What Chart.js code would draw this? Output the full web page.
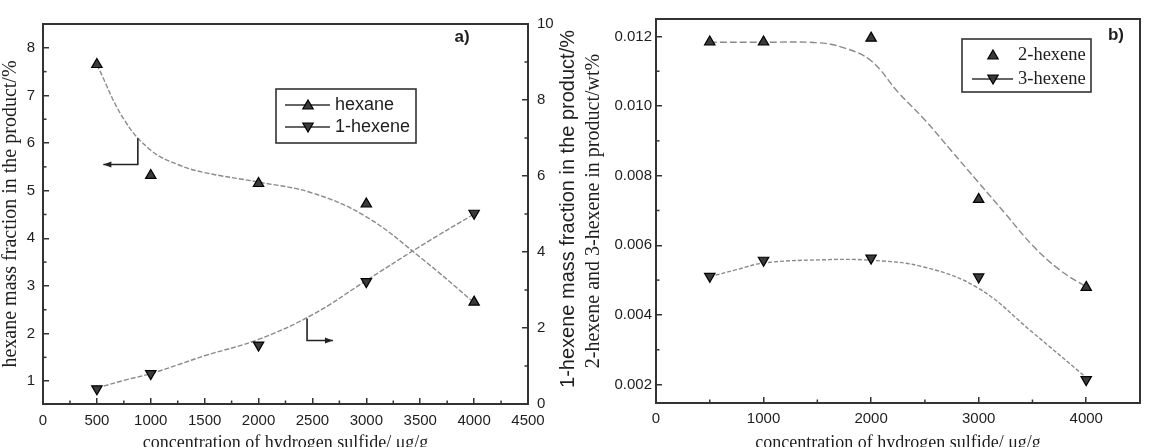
<!DOCTYPE html>
<html>
<head>
<meta charset="utf-8">
<script src="https://cdn.jsdelivr.net/npm/chart.js@4/dist/chart.umd.min.js"></script>
<style>
  html, body { margin: 0; padding: 0; background: #fff; overflow: hidden; }
  #wrap { position: relative; width: 1156px; height: 447px; }
  canvas { position: absolute; top: 0; }
  #c1 { left: 0; }
  #c2 { left: 578px; }
</style>
</head>
<body>
<div id="wrap">
  <canvas id="c1" width="578" height="447"></canvas>
  <canvas id="c2" width="578" height="447"></canvas>
</div>
<script>
// measured points
const conc = [500, 1000, 2000, 3000, 4000];
const hexane = [7.65, 5.32, 5.15, 4.72, 2.66];
const hexene1 = [0.40, 0.80, 1.55, 3.22, 5.02];
const hexene2 = [0.01184, 0.01184, 0.01195, 0.00732, 0.00479];
const hexene3 = [0.00511, 0.00557, 0.00563, 0.00509, 0.00214];

// fitted curves
const fitXa = [500, 750, 1000, 1250, 1500, 2000, 2500, 3000, 3500, 4000];
const hexaneFit = [7.65, 6.5, 5.85, 5.55, 5.38, 5.18, 4.95, 4.45, 3.6, 2.65];
const hexene1Fit = [0.42, 0.62, 0.8, 1.03, 1.27, 1.7, 2.35, 3.25, 4.15, 5.0];
const fitX2 = [500, 1000, 1500, 1750, 2000, 2250, 2500, 2750, 3000, 3250, 3500, 3750, 4000];
const hexene2Fit = [0.01183, 0.01183, 0.01182, 0.01167, 0.0113, 0.0104, 0.0096, 0.0087, 0.0078, 0.0069, 0.0060, 0.0053, 0.0048];
const fitX3 = [500, 750, 1000, 1500, 2000, 2500, 3000, 3500, 4000];
const hexene3Fit = [0.0051, 0.0053, 0.00549, 0.00558, 0.00557, 0.00537, 0.00476, 0.0035, 0.0022];

// labelled ticks
const majorXa = [0, 500, 1000, 1500, 2000, 2500, 3000, 3500, 4000, 4500];
const majorYa = [1, 2, 3, 4, 5, 6, 7, 8];
const majorY1a = [0, 2, 4, 6, 8, 10];
const majorXb = [0, 1000, 2000, 3000, 4000];
const majorYb = [0.002, 0.004, 0.006, 0.008, 0.010, 0.012];

// minor ticks
const minorXa = [250, 750, 1250, 1750, 2250, 2750, 3250, 3750, 4250];
const minorYa = [1.5, 2.5, 3.5, 4.5, 5.5, 6.5, 7.5];
const minorY1a = [1, 3, 5, 7, 9];
const minorXb = [500, 1500, 2500, 3500];
const minorYb = [0.003, 0.005, 0.007, 0.009, 0.011];

const SANS = '"Liberation Sans", Arial, sans-serif';
const SERIF = '"Liberation Serif", "Times New Roman", serif';
const INK = '#1e1e1e';

Chart.defaults.font.family = SANS;
Chart.defaults.color = INK;

const pts = (xs, ys) => xs.map((x, i) => ({ x: x, y: ys[i] }));
const fixTicks = list => s => { s.ticks = list.map(v => ({ value: v })); };

function tri(ctx, x, y, r, rot) {
  let a = rot * Math.PI / 180;
  ctx.beginPath();
  for (let i = 0; i < 3; i++) {
    ctx.lineTo(x + Math.sin(a) * r, y - Math.cos(a) * r);
    a += 2 * Math.PI / 3;
  }
  ctx.closePath();
  ctx.fillStyle = '#3a3a3a';
  ctx.fill();
  ctx.strokeStyle = '#000';
  ctx.lineWidth = 1.2;
  ctx.stroke();
}

// frame, minor ticks, arrows, legend box and panel label
const extras = {
  id: 'extras',
  afterDraw(chart, args, o) {
    const { ctx, chartArea: a, scales } = chart;
    ctx.save();
    ctx.strokeStyle = '#333';
    ctx.lineWidth = 2;
    ctx.strokeRect(a.left, a.top, a.right - a.left, a.bottom - a.top);

    ctx.lineWidth = 1.5;
    (o.minor || []).forEach(m => {
      const s = scales[m.axis];
      m.values.forEach(v => {
        const p = s.getPixelForValue(v);
        ctx.beginPath();
        if (s.isHorizontal()) { ctx.moveTo(p, a.bottom); ctx.lineTo(p, a.bottom - 3.5); }
        else if (s.position === 'left') { ctx.moveTo(a.left, p); ctx.lineTo(a.left + 3.5, p); }
        else { ctx.moveTo(a.right, p); ctx.lineTo(a.right - 3.5, p); }
        ctx.stroke();
      });
    });

    // L-shaped arrows pointing at the axis each curve belongs to
    (o.arrows || []).forEach(ar => {
      const xs = scales.x, ys = scales[ar.axis];
      const p = ar.pts.map(q => [xs.getPixelForValue(q[0]), ys.getPixelForValue(q[1])]);
      ctx.strokeStyle = '#222';
      ctx.lineWidth = 1.6;
      ctx.beginPath();
      p.forEach((q, i) => i ? ctx.lineTo(q[0], q[1]) : ctx.moveTo(q[0], q[1]));
      ctx.stroke();
      const e = p[p.length - 1], b = p[p.length - 2];
      const dir = Math.sign(e[0] - b[0]);
      ctx.fillStyle = '#222';
      ctx.beginPath();
      ctx.moveTo(e[0], e[1]);
      ctx.lineTo(e[0] - dir * 8, e[1] - 3);
      ctx.lineTo(e[0] - dir * 8, e[1] + 3);
      ctx.closePath();
      ctx.fill();
    });

    // right axis title reads bottom-to-top, unlike Chart.js' default
    if (o.rightTitle) {
      const s = scales[o.rightTitle.axis];
      ctx.save();
      ctx.translate(o.rightTitle.x, (s.top + s.bottom) / 2 - 5);
      ctx.rotate(-Math.PI / 2);
      ctx.font = o.rightTitle.font;
      ctx.fillStyle = INK;
      ctx.textAlign = 'center';
      ctx.textBaseline = 'middle';
      ctx.fillText(o.rightTitle.text, 0, 0);
      ctx.restore();
    }

    const L = o.legend;
    if (L) {
      ctx.strokeStyle = '#333';
      ctx.lineWidth = 1.6;
      ctx.strokeRect(L.x, L.y, L.w, L.h);
      ctx.font = L.font;
      ctx.textBaseline = 'middle';
      ctx.textAlign = 'left';
      L.items.forEach((it, i) => {
        const y = L.y + L.row0 + i * L.rowH;
        if (it.line) {
          ctx.strokeStyle = '#333';
          ctx.lineWidth = 1.3;
          ctx.beginPath();
          ctx.moveTo(L.lx0, y);
          ctx.lineTo(L.lx1, y);
          ctx.stroke();
        }
        tri(ctx, L.mx, y + (it.rot ? -1 : 1), 6, it.rot);
        ctx.fillStyle = INK;
        ctx.fillText(it.text, L.tx, y);
      });
    }

    if (o.label) {
      ctx.font = 'bold 17px ' + SANS;
      ctx.fillStyle = INK;
      ctx.textAlign = 'center';
      ctx.textBaseline = 'middle';
      ctx.fillText(o.label.text, o.label.x, o.label.y);
    }
    ctx.restore();
  }
};

const gridOpts = { drawOnChartArea: false, tickLength: -6, color: '#333', lineWidth: 1.5 };
const borderOpts = { color: '#333', width: 2 };
const xTitle = {
  display: true,
  text: 'concentration of hydrogen sulfide/ μg/g',
  font: { family: SERIF, size: 18, lineHeight: 0.4 },
  padding: 0,
  color: INK
};

const pointSet = (label, data, axis, rot) => ({
  label: label, data: data, yAxisID: axis, showLine: false,
  pointStyle: 'triangle', pointRadius: 6, pointRotation: rot,
  backgroundColor: '#3a3a3a', borderColor: '#000', borderWidth: 1.2, order: 0
});
const fitSet = (label, data, axis, dash) => ({
  label: label, data: data, yAxisID: axis, showLine: true, pointRadius: 0,
  borderColor: '#8a8a8a', borderWidth: 1.4, borderDash: dash, tension: 0.4,
  fill: false, order: 1
});

new Chart(document.getElementById('c1'), {
  type: 'scatter',
  data: {
    datasets: [
      pointSet('hexane', pts(conc, hexane), 'y', 0),
      pointSet('1-hexene', pts(conc, hexene1), 'y1', 180),
      fitSet('hexane fit', pts(fitXa, hexaneFit), 'y', [5, 2]),
      fitSet('1-hexene fit', pts(fitXa, hexene1Fit), 'y1', [5, 2])
    ]
  },
  options: {
    responsive: false,
    animation: false,
    layout: { padding: { top: 8, right: 0, bottom: 0, left: 0 } },
    plugins: {
      legend: { display: false },
      tooltip: { enabled: false },
      extras: {
        minor: [
          { axis: 'x', values: minorXa },
          { axis: 'y', values: minorYa },
          { axis: 'y1', values: minorY1a }
        ],
        arrows: [
          { axis: 'y', pts: [[880, 6.1], [880, 5.55], [560, 5.55]] },
          { axis: 'y1', pts: [[2450, 2.25], [2450, 1.67], [2690, 1.67]] }
        ],
        rightTitle: { axis: 'y1', x: 568, text: '1-hexene mass fraction in the product/%', font: '20px ' + SANS },
        legend: {
          x: 276, y: 89, w: 140, h: 54, row0: 16, rowH: 22,
          lx0: 285, lx1: 330, mx: 308, tx: 335, font: '18px ' + SANS,
          items: [{ text: 'hexane', line: true, rot: 0 }, { text: '1-hexene', line: true, rot: 180 }]
        },
        label: { text: 'a)', x: 462, y: 37 }
      }
    },
    scales: {
      x: {
        type: 'linear', min: 0, max: 4500,
        afterBuildTicks: fixTicks(majorXa),
        ticks: { padding: 14, font: { size: 15 }, maxRotation: 0, autoSkip: false, callback: v => String(v) },
        grid: gridOpts, border: borderOpts, title: xTitle,
        afterFit: s => { s.height = 43; }
      },
      y: {
        position: 'left', min: 0.52, max: 8.5,
        afterBuildTicks: fixTicks(majorYa),
        ticks: { padding: 14, font: { size: 15 }, callback: v => String(v) },
        grid: gridOpts, border: borderOpts,
        title: { display: true, text: 'hexane mass fraction in the product/%', font: { family: SERIF, size: 20, lineHeight: 1 }, padding: { top: 1, bottom: 0 }, color: INK },
        afterFit: s => { s.width = 43; }
      },
      y1: {
        position: 'right', min: 0, max: 10,
        afterBuildTicks: fixTicks(majorY1a),
        ticks: { padding: 15, font: { size: 15 }, callback: v => String(v) },
        grid: gridOpts, border: borderOpts,
        afterFit: s => { s.width = 50; }
      }
    }
  },
  plugins: [extras]
});

new Chart(document.getElementById('c2'), {
  type: 'scatter',
  data: {
    datasets: [
      pointSet('2-hexene', pts(conc, hexene2), 'y', 0),
      pointSet('3-hexene', pts(conc, hexene3), 'y', 180),
      fitSet('2-hexene fit', pts(fitX2, hexene2Fit), 'y', [7, 3]),
      fitSet('3-hexene fit', pts(fitX3, hexene3Fit), 'y', [4, 2])
    ]
  },
  options: {
    responsive: false,
    animation: false,
    layout: { padding: { top: 7, right: 16, bottom: 0, left: 0 } },
    plugins: {
      legend: { display: false },
      tooltip: { enabled: false },
      extras: {
        minor: [
          { axis: 'x', values: minorXb },
          { axis: 'y', values: minorYb }
        ],
        legend: {
          x: 384, y: 39, w: 129, h: 53, row0: 16, rowH: 24,
          lx0: 394, lx1: 435, mx: 415, tx: 440, font: '18.5px ' + SERIF,
          items: [{ text: '2-hexene', line: false, rot: 0 }, { text: '3-hexene', line: true, rot: 180 }]
        },
        label: { text: 'b)', x: 538, y: 35 }
      }
    },
    scales: {
      x: {
        type: 'linear', min: 0, max: 4500,
        afterBuildTicks: fixTicks(majorXb),
        ticks: { padding: 13, font: { size: 15 }, maxRotation: 0, autoSkip: false, callback: v => String(v) },
        grid: gridOpts, border: borderOpts, title: xTitle,
        afterFit: s => { s.height = 44; }
      },
      y: {
        position: 'left', min: 0.00147, max: 0.0125,
        afterBuildTicks: fixTicks(majorYb),
        ticks: { padding: 10, font: { size: 15 }, callback: v => v.toFixed(3) },
        grid: gridOpts, border: borderOpts,
        title: { display: true, text: '2-hexene and 3-hexene in product/wt%', font: { family: SERIF, size: 20, lineHeight: 1 }, padding: { top: 6, bottom: 0 }, color: INK },
        afterFit: s => { s.width = 78; }
      }
    }
  },
  plugins: [extras]
});
</script>
</body>
</html>
